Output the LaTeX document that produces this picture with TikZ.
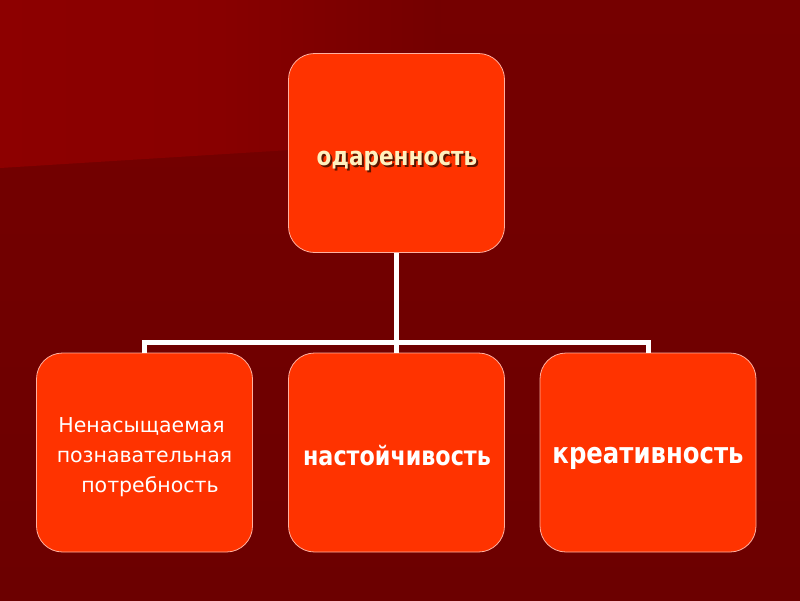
\documentclass[tikz,border=0pt]{standalone}
\usepackage{fontspec}
\setmainfont{DejaVu Sans}
\newfontfamily\bnarrow[FakeStretch=0.84]{DejaVu Sans}
\definecolor{bgtop}{HTML}{750000}
\definecolor{bgbottom}{HTML}{6C0000}
\definecolor{bglight}{HTML}{8D0000}
\definecolor{bgmid}{HTML}{740000}
\definecolor{boxfill}{HTML}{FF3300}
\definecolor{boxline}{HTML}{FFB0A0}
\definecolor{cream}{HTML}{FFF0BE}
\definecolor{shadowc}{HTML}{5A1400}
\tikzset{
  card/.style={draw=boxline, line width=0.8pt, fill=boxfill, rounded corners=26pt,
    minimum width=216pt, minimum height=199pt, inner sep=0pt},
  lbl/.style={anchor=base, inner sep=0pt, text=white},
  link/.style={draw=white, line width=5pt}
}
\begin{document}
\begin{tikzpicture}[x=1pt,y=-1pt]
\useasboundingbox (0,0) rectangle (800,600);
\shade[top color=bgtop, bottom color=bgbottom] (0,0) rectangle (800,600);
\shade[left color=bglight, right color=bgmid, middle color=bglight!80!bgmid] (0,0) -- (440,0) -- (440,138) -- (290,150) -- (0,168) -- cycle;
% cards
\node[card] (top) at (396.5,153) {};
\node[card] (left) at (144.5,452.5) {};
\node[card] (mid) at (396.5,452.5) {};
\node[card] (right) at (648,452.5) {};
% labels
\node[lbl, text=cream, font=\bnarrow\bfseries\fontsize{25.7}{28}\selectfont] (toplabel) at (397,165)
  {\makebox[0pt][l]{\hspace{2pt}\raisebox{-2pt}{\color{shadowc}одаренность}}одаренность};
\node[lbl, font=\fontsize{20.5}{24}\selectfont] (l1) at (144.5,432) {Ненасыщаемая\hspace*{6pt}};
\node[lbl, font=\fontsize{20.5}{24}\selectfont] (l2) at (144.5,462.5) {познавательная};
\node[lbl, font=\fontsize{20.5}{24}\selectfont] (l3) at (144.5,492) {\hspace*{11pt}потребность};
\node[lbl, font=\bnarrow\bfseries\fontsize{26.5}{29}\selectfont] (midlabel) at (397,465) {настойчивость};
\node[lbl, font=\bnarrow\bfseries\fontsize{29}{32}\selectfont] (rightlabel) at (648,463) {креативность};
% connectors
\coordinate (bar) at (396.5,342);
\draw[link] (top.south) -- (bar);
\draw[link] (left.north) -- (left.north |- bar) -- (right.north |- bar) -- (right.north);
\draw[link] (bar) -- (mid.north);
\end{tikzpicture}
\end{document}
